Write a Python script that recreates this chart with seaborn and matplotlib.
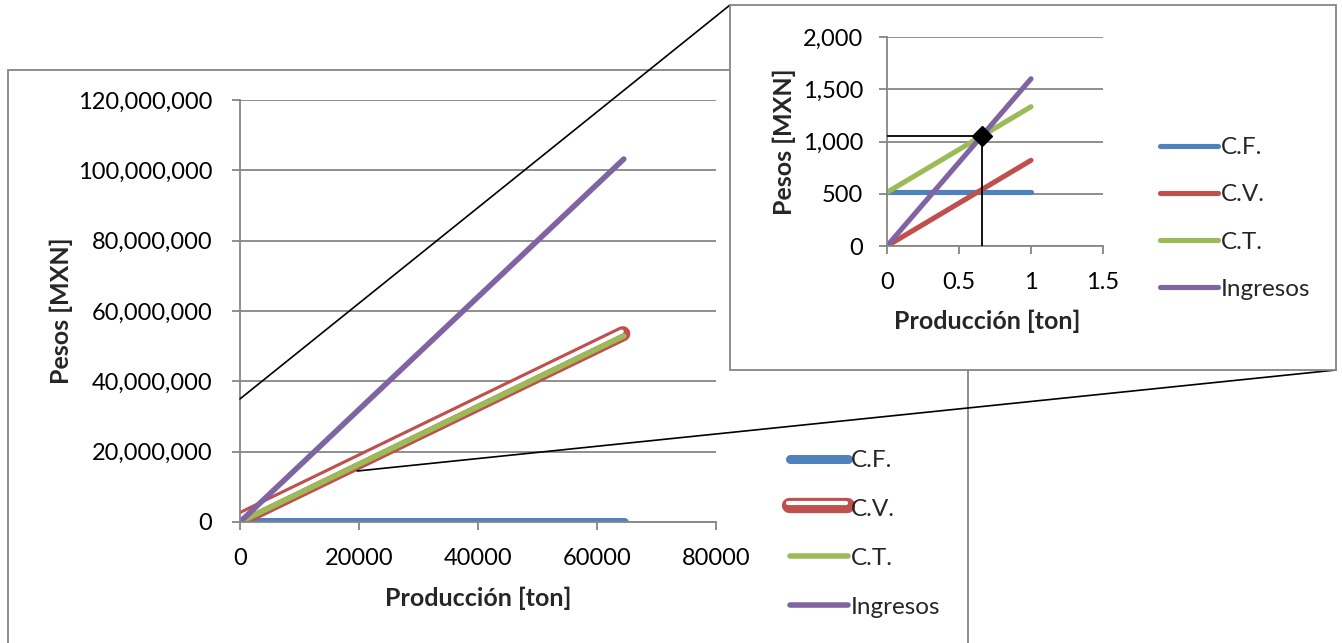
import seaborn as sns
import matplotlib.pyplot as plt
import matplotlib.patheffects as pe
from matplotlib.patches import Rectangle, ConnectionPatch
from matplotlib.ticker import FuncFormatter, MultipleLocator

# datos grafica principal (toneladas / pesos)
produccion = [0, 64500]
costo_fijo = [513, 513]
costo_variable = [0, 52900000]
costo_total = [513, 52900513]
ingresos = [0, 103200000]

# datos del acercamiento (1 ton)
prod_zoom = [0, 1]
cf_zoom = [513, 513]
cv_zoom = [0, 820]
ct_zoom = [513, 1333]
ing_zoom = [0, 1600]

# punto de equilibrio
eq_x = 0.66
eq_y = 1052

series = ["C.F.", "C.V.", "C.T.", "Ingresos"]
colores = ["#4F81BD", "#C0504D", "#9BBB59", "#8064A2"]
gris = "#868686"

W, H = 1342, 643


def caja(x0, y0, x1, y1):
    return [x0 / W, 1 - y1 / H, (x1 - x0) / W, (y1 - y0) / H]


sns.set_style("white")
plt.rcParams["font.family"] = ["Lato", "DejaVu Sans"]
FS = 17
FS_LAB = 18
FS_LEG = 17.5

fig = plt.figure(figsize=(W / 100, H / 100), dpi=100)

# marco de la grafica principal
fig.add_artist(Rectangle((8 / W, -0.02), 960 / W, 1 - 70 / H + 0.02,
                         transform=fig.transFigure, fill=False,
                         ec=gris, lw=1.3, zorder=0.5))
# marco del acercamiento
fig.add_artist(Rectangle((730 / W, 1 - 370 / H), 606 / W, 365 / H,
                         transform=fig.transFigure, fc="white",
                         ec=gris, lw=1.3, zorder=2))

ax = fig.add_axes(caja(240, 100, 716, 522))
axi = fig.add_axes(caja(887, 37, 1103, 246))
ax.set_zorder(1)
axi.set_zorder(3)
ax.patch.set_alpha(0)

# grafica principal
sns.lineplot(x=produccion, y=costo_fijo, ax=ax, color=colores[0], lw=6.5,
             label=series[0], solid_capstyle="round")
sns.lineplot(x=produccion, y=costo_variable, ax=ax, color=colores[1], lw=0.1,
             label=series[1], solid_capstyle="round",
             path_effects=[pe.Stroke(linewidth=11, foreground=colores[1], offset=(-0.75, 1.6)),
                           pe.Stroke(linewidth=3, foreground="white", offset=(-1.5, 3.2))])
sns.lineplot(x=produccion, y=costo_total, ax=ax, color=colores[2], lw=4,
             label=series[2], solid_capstyle="round")
sns.lineplot(x=produccion, y=ingresos, ax=ax, color=colores[3], lw=4,
             label=series[3], solid_capstyle="round")

# acercamiento
for yy, c, n in zip([cf_zoom, cv_zoom, ct_zoom, ing_zoom], colores, series):
    sns.lineplot(x=prod_zoom, y=yy, ax=axi, color=c, lw=3.7, label=n,
                 solid_capstyle="round")
axi.plot([0, eq_x], [eq_y, eq_y], color="black", lw=1.3, zorder=5)
axi.plot([eq_x, eq_x], [eq_y, 0], color="black", lw=1.3, zorder=5)
axi.plot([eq_x], [eq_y], marker="D", ms=10.5, color="black", zorder=6)

ax.set_xlim(0, 80000)
ax.set_ylim(0, 120000000)
ax.xaxis.set_major_locator(MultipleLocator(20000))
ax.yaxis.set_major_locator(MultipleLocator(20000000))
axi.set_xlim(0, 1.5)
axi.set_ylim(0, 2000)
axi.xaxis.set_major_locator(MultipleLocator(0.5))
axi.yaxis.set_major_locator(MultipleLocator(500))

miles = FuncFormatter(lambda v, p: f"{v:,.0f}")
for a in (ax, axi):
    a.yaxis.set_major_formatter(miles)
    a.grid(False)
    a.yaxis.grid(True, color=gris, lw=1.3)
    a.set_axisbelow(True)
    for s in ("top", "right"):
        a.spines[s].set_visible(False)
    for s in ("left", "bottom"):
        a.spines[s].set_color(gris)
        a.spines[s].set_linewidth(1.3)
    a.tick_params(axis="both", which="major", bottom=True, left=True,
                  direction="out", color=gris, width=1.3, length=6,
                  labelsize=FS, labelcolor="black")
ax.xaxis.set_major_formatter(FuncFormatter(lambda v, p: f"{v:.0f}"))
axi.xaxis.set_major_formatter(FuncFormatter(lambda v, p: f"{v:g}"))
ax.tick_params(axis="y", pad=14)
ax.tick_params(axis="x", pad=13)
axi.tick_params(axis="y", pad=11)
axi.tick_params(axis="x", pad=13)

ax.set_xlabel("Producción [ton]", fontsize=FS_LAB, fontweight="bold")
ax.set_ylabel("Pesos [MXN]", fontsize=FS_LAB, fontweight="bold")
axi.set_xlabel("Producción [ton]", fontsize=FS_LAB, fontweight="bold")
axi.set_ylabel("Pesos [MXN]", fontsize=FS_LAB, fontweight="bold")
ax.xaxis.set_label_coords(0.5, -0.152)
ax.yaxis.set_label_coords(-0.35, 0.5)
axi.xaxis.set_label_coords(0.463, -0.305)
axi.yaxis.set_label_coords(-0.42, 0.5)

ax.legend(loc="upper left", bbox_to_anchor=(790 / W, 1 - 450 / H),
          bbox_transform=fig.transFigure, frameon=False, fontsize=FS_LEG,
          borderpad=0, borderaxespad=0, handlelength=2.4, handletextpad=0.1,
          labelspacing=1.15)
axi.legend(loc="upper left", bbox_to_anchor=(1160 / W, 1 - 137 / H),
           bbox_transform=fig.transFigure, frameon=False, fontsize=FS_LEG,
           borderpad=0, borderaxespad=0, handlelength=2.4, handletextpad=0.1,
           labelspacing=1.08)

# lineas del acercamiento
for xy_a, xy_b in [((0, 35000000), (730 / W, 1 - 5 / H)),
                   ((19700, 14500000), (1336 / W, 1 - 370 / H))]:
    cp = ConnectionPatch(xyA=xy_a, coordsA=ax.transData, xyB=xy_b,
                         coordsB="figure fraction", color="black", lw=1.2,
                         zorder=1.5)
    fig.add_artist(cp)

fig.savefig("out.png", dpi=100)
